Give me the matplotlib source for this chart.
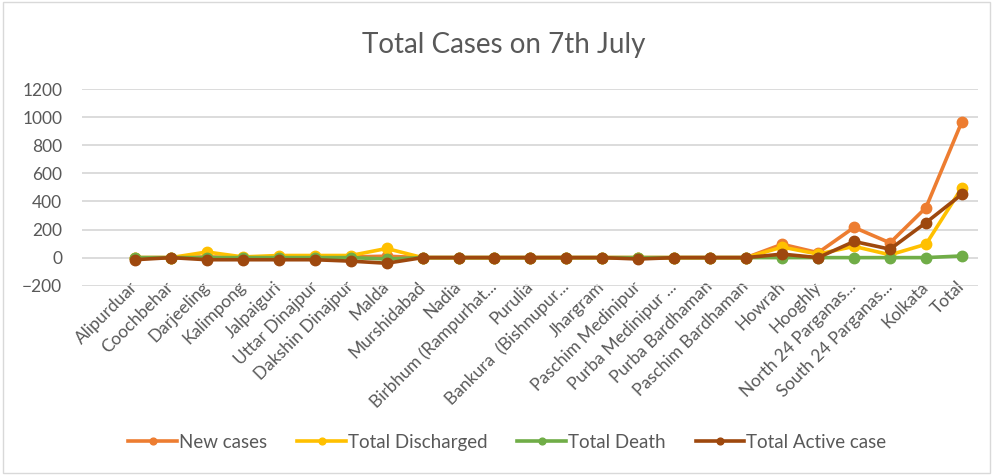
import matplotlib.pyplot as plt
from matplotlib.patches import Rectangle

districts = ['Alipurduar', 'Coochbehar', 'Darjeeling', 'Kalimpong', 'Jalpaiguri',
             'Uttar Dinajpur', 'Dakshin Dinajpur', 'Malda', 'Murshidabad', 'Nadia',
             'Birbhum (Rampurhat...', 'Purulia', 'Bankura  (Bishnupur...', 'Jhargram',
             'Paschim Medinipur', 'Purba Medinipur ...', 'Purba Bardhaman',
             'Paschim Bardhaman', 'Howrah', 'Hooghly', 'North 24 Parganas...',
             'South 24 Parganas...', 'Kolkata', 'Total']

new_cases = [0, 0, 5, 0, 5, 5, 5, 10, 0, 0, 0, 0, 0, 0, 0, 0, 0, 0, 95, 35, 215, 105, 356, 968]
discharged = [0, 0, 40, 5, 15, 15, 15, 65, 0, 0, 0, 0, 0, 0, 0, 0, 0, 0, 75, 25, 80, 20, 95, 498]
deaths = [0, 0, 0, 0, 0, 0, 0, -10, 0, 0, 0, 0, 0, 0, 0, 0, 0, 0, 0, 0, 0, 0, 0, 12]
active = [-15, 0, -15, -15, -15, -15, -25, -40, 0, 0, 0, 0, 0, 0, -10, 0, 0, 0, 25, 0, 115, 60, 249, 451]

series = [
    ('New cases', new_cases, '#ED7D31'),
    ('Total Discharged', discharged, '#FFC000'),
    ('Total Death', deaths, '#70AD47'),
    ('Total Active case', active, '#9E480E'),
]

plt.rcParams['font.family'] = ['Lato', 'DejaVu Sans']
grey = '#595959'

fig = plt.figure(figsize=(9.93, 4.75), dpi=100)
ax = fig.add_axes([0.0823, 0.3985, 0.9027, 0.4141])

x = list(range(len(districts)))
for name, vals, col in series:
    ax.plot(x, vals, color=col, lw=2.6, marker='o', markersize=7.5, label=name)

ax.set_xlim(-1.48, len(districts) - 0.55)
ax.set_ylim(-200, 1200)
ax.set_yticks(range(-200, 1201, 200))
ax.grid(axis='y', color='#d9d9d9', lw=1.3)
ax.set_axisbelow(True)
for s in ax.spines.values():
    s.set_visible(False)
ax.tick_params(length=0, colors=grey, labelsize=12.5)
ax.tick_params(axis='y', pad=14)
ax.tick_params(axis='x', pad=-1)
ax.set_xticks(x)
ax.set_xticklabels(districts, rotation=45, ha='right', va='center', rotation_mode='anchor')

fig.text(0.507, 0.905, 'Total Cases on 7th July', ha='center', va='center',
         fontsize=20, color=grey)

fig.legend(loc='center', bbox_to_anchor=(0.511, 0.069), ncol=4, frameon=False,
           fontsize=13.5, labelcolor=grey, handlelength=2.6, handletextpad=0.1,
           columnspacing=1.6, markerscale=0.65)

fig.patches.append(Rectangle((0.003, 0.005), 0.994, 0.99, transform=fig.transFigure,
                             fill=False, edgecolor='#d9d9d9', lw=1))

fig.savefig('out.png', dpi=100)
